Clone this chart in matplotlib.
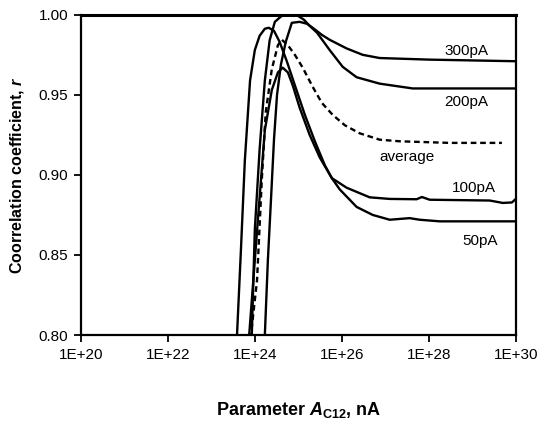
import numpy as np
import matplotlib
matplotlib.use("Agg")
import matplotlib.pyplot as plt

plt.rcParams['font.family'] = ['Liberation Sans', 'DejaVu Sans']
plt.rcParams['mathtext.fontset'] = 'custom'
plt.rcParams['mathtext.rm'] = 'Liberation Sans'
plt.rcParams['mathtext.bf'] = 'Liberation Sans:bold'
plt.rcParams['mathtext.bfit'] = 'Liberation Sans:bold:italic'

# log10 of parameter A_C12 (nA) and correlation coefficient r
logA_300 = [24.18, 24.23, 24.30, 24.37, 24.44, 24.51, 24.60, 24.71, 24.85, 25.03, 25.20,
            25.33, 25.54, 25.72, 26.11, 26.48, 26.87, 28.02, 30.0]
r_300 = [0.78, 0.800, 0.847, 0.884, 0.922, 0.950, 0.969, 0.983, 0.9950, 0.9956, 0.9944,
         0.9919, 0.9875, 0.9844, 0.979, 0.975, 0.973, 0.972, 0.971]

logA_200 = [23.87, 23.93, 24.00, 24.11, 24.23, 24.34, 24.46, 24.62, 24.80, 24.99, 25.13,
            25.26, 25.43, 25.72, 26.02, 26.34, 26.87, 27.63, 28.48, 30.0]
r_200 = [0.78, 0.800, 0.866, 0.916, 0.959, 0.984, 0.9956, 0.9994, 1.000, 0.9994, 0.9969,
         0.9931, 0.9888, 0.978, 0.9675, 0.961, 0.957, 0.954, 0.954, 0.954]

logA_avg = [23.86, 23.91, 24.05, 24.16, 24.25, 24.39, 24.53, 24.62, 24.76, 24.92, 25.10,
            25.33, 25.54, 25.79, 26.07, 26.41, 26.87, 27.33, 28.48, 29.68]
r_avg = [0.78, 0.800, 0.834, 0.897, 0.939, 0.966, 0.981, 0.9844, 0.981, 0.975, 0.967,
         0.955, 0.945, 0.9375, 0.931, 0.926, 0.922, 0.921, 0.920, 0.920]

logA_100 = [23.54, 23.59, 23.68, 23.77, 23.89, 24.00, 24.11, 24.23, 24.32, 24.44, 24.57,
            24.74, 24.92, 25.15, 25.38, 25.61, 25.77, 26.11, 26.64, 27.10, 27.72, 27.84,
            28.02, 29.40, 29.70, 29.91, 30.0]
r_100 = [0.78, 0.800, 0.853, 0.909, 0.959, 0.978, 0.9869, 0.9913, 0.9919, 0.990, 0.9831,
         0.9706, 0.956, 0.9375, 0.921, 0.906, 0.898, 0.892, 0.886, 0.885, 0.8848, 0.8862,
         0.8845, 0.884, 0.8825, 0.8828, 0.885]

logA_50 = [23.82, 23.87, 24.07, 24.23, 24.39, 24.53, 24.64, 24.76, 24.87, 25.03, 25.26,
           25.49, 25.77, 25.95, 26.34, 26.71, 27.10, 27.56, 27.79, 28.25, 30.0]
r_50 = [0.78, 0.800, 0.872, 0.928, 0.953, 0.964, 0.967, 0.964, 0.956, 0.942, 0.925,
        0.911, 0.898, 0.891, 0.880, 0.875, 0.872, 0.873, 0.872, 0.871, 0.871]

series = [
    (logA_300, r_300, '-'),
    (logA_200, r_200, '-'),
    (logA_avg, r_avg, (0, (2.4, 1.6))),
    (logA_100, r_100, '-'),
    (logA_50, r_50, '-'),
]

curve_labels = ['300pA', '200pA', 'average', '100pA', '50pA']
label_logA = [28.87, 28.87, 27.49, 29.03, 29.17]
label_r = [0.9775, 0.9456, 0.911, 0.892, 0.859]

xtick_exp = [20, 22, 24, 26, 28, 30]
yticks = [0.80, 0.85, 0.90, 0.95, 1.00]

fig = plt.figure(figsize=(5.39, 4.23), dpi=100)
ax = fig.add_axes([0.150, 0.208, 0.807, 0.757])

for lx, ry, ls in series:
    ax.plot(10.0 ** np.array(lx), ry, color='black', linestyle=ls,
            linewidth=1.7, solid_joinstyle='round')

for txt, lx, ry in zip(curve_labels, label_logA, label_r):
    ax.text(10.0 ** lx, ry, txt, fontsize=11, ha='center', va='center')

ax.set_xscale('log')
ax.set_xlim(1e20, 1e30)
ax.set_ylim(0.80, 1.00)
ax.set_xticks([10.0 ** e for e in xtick_exp])
ax.set_xticklabels(['1E+%d' % e for e in xtick_exp])
ax.xaxis.set_minor_locator(matplotlib.ticker.NullLocator())
ax.set_yticks(yticks)
ax.set_yticklabels(['%.2f' % v for v in yticks])

ax.tick_params(axis='both', direction='out', length=5, width=1.3, labelsize=11, pad=4)
for sp in ax.spines.values():
    sp.set_linewidth(1.6)
ax.spines['top'].set_linewidth(2.2)

ax.set_xlabel(r'Parameter $\mathbfit{A}_{\mathbf{C12}}$, nA', fontsize=13,
              fontweight='bold', labelpad=28)
ax.set_ylabel(r'Coorrelation coefficient, $\mathbfit{r}$', fontsize=11.5,
              fontweight='bold', labelpad=9)

fig.savefig('out.png', dpi=100)
